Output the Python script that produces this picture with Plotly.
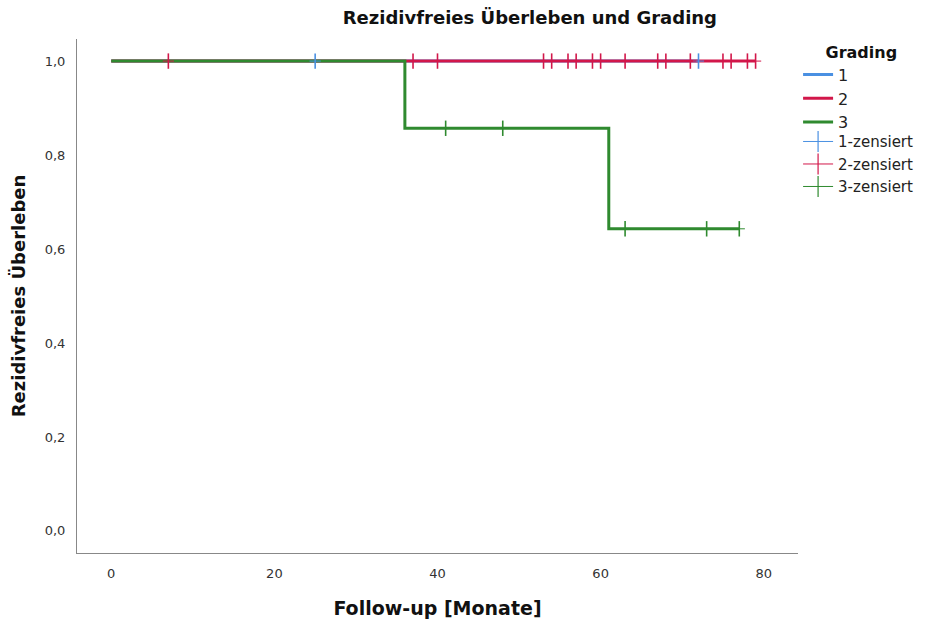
import plotly.graph_objects as go

# ---- data ----
g1_time = [0, 72]
g1_surv = [1.0, 1.0]
g1_cens_time = [25, 72]

g2_time = [0, 79]
g2_surv = [1.0, 1.0]
g2_cens_time = [7, 37, 40, 53, 54, 56, 57, 59, 60, 63, 67, 68, 71, 75, 76, 78, 79]

g3_time = [0, 36, 61, 77]
g3_surv = [1.0, 0.857, 0.643, 0.643]
g3_cens_time = [41, 48, 63, 73, 77]
g3_cens_surv = [0.857, 0.857, 0.643, 0.643, 0.643]

groups = ["1", "2", "3"]
colors = ["#4A90E2", "#D2174A", "#2F8A2F"]
x_ticks = [0, 20, 40, 60, 80]
y_ticks = [0.0, 0.2, 0.4, 0.6, 0.8, 1.0]

FONT = "DejaVu Sans"

fig = go.Figure()

curves = [(g1_time, g1_surv), (g2_time, g2_surv), (g3_time, g3_surv)]
for name, (t, s), c in zip(groups, curves, colors):
    fig.add_trace(go.Scatter(x=t, y=s, mode="lines", line=dict(shape="hv", color=c, width=3),
                             name=name, legendrank=int(name), legend="legend"))

cens = [(g1_cens_time, [1.0] * len(g1_cens_time)),
        (g2_cens_time, [1.0] * len(g2_cens_time)),
        (g3_cens_time, g3_cens_surv)]
for name, (t, s), c in zip(groups, cens, colors):
    fig.add_trace(go.Scatter(x=t, y=s, mode="markers",
                             marker=dict(symbol="line-ns", size=11, line=dict(color=c, width=1.6)),
                             showlegend=False, hoverinfo="x+y"))
    fig.add_trace(go.Scatter(x=t, y=s, mode="markers",
                             marker=dict(symbol="line-ew", size=8, line=dict(color=c, width=1)),
                             showlegend=False, hoverinfo="skip"))
    # legend entry for censored marks
    fig.add_trace(go.Scatter(x=[None], y=[None], mode="lines+markers",
                             line=dict(color=c, width=1),
                             marker=dict(symbol="line-ns", size=15, line=dict(color=c, width=1.2)),
                             name=f"{name}-zensiert", legendrank=10 + int(name), legend="legend2"))

fig.update_layout(
    width=928, height=623,
    margin=dict(l=77, r=130, t=39, b=70),
    paper_bgcolor="white", plot_bgcolor="white",
    separators=",.",
    font=dict(family=FONT, color="#222"),
    title=dict(text="<b>Rezidivfreies Überleben und Grading</b>", x=0.571, xanchor="center",
               y=0.971, yanchor="middle", font=dict(size=18, color="#111")),
    showlegend=True,
    legend=dict(title=dict(text="&nbsp;&nbsp;&nbsp;&nbsp;&nbsp;<b>Grading</b>",
                           font=dict(size=16, color="#111"), side="top"),
                xref="container", yref="container",
                x=0.86, xanchor="left", y=0.941, yanchor="top",
                font=dict(size=16, color="#222"), itemwidth=30,
                tracegroupgap=0, bgcolor="rgba(0,0,0,0)"),
    legend2=dict(xref="container", yref="container",
                 x=0.86, xanchor="left", y=0.799, yanchor="top",
                 font=dict(size=15, color="#222"), itemwidth=30,
                 tracegroupgap=0, bgcolor="rgba(0,0,0,0)"),
    xaxis=dict(range=[-4.2, 84.2], tickvals=x_ticks, showgrid=False, zeroline=False,
               showline=True, linecolor="#888", linewidth=1, ticks="", ticklabelstandoff=8,
               tickfont=dict(size=13, color="#333"), automargin=False,
               title=dict(text="<b>Follow-up [Monate]</b>", font=dict(size=19, color="#111"), standoff=22)),
    yaxis=dict(range=[-0.047, 1.047], tickvals=y_ticks, tickformat=".1f", showgrid=False, zeroline=False,
               showline=True, linecolor="#888", linewidth=1, ticks="", ticklabelstandoff=8,
               tickfont=dict(size=13, color="#333"), automargin=False,
               title=dict(text="<b>Rezidivfreies Überleben</b>", font=dict(size=18, color="#111"), standoff=14)),
)

fig.write_html("out.html")
